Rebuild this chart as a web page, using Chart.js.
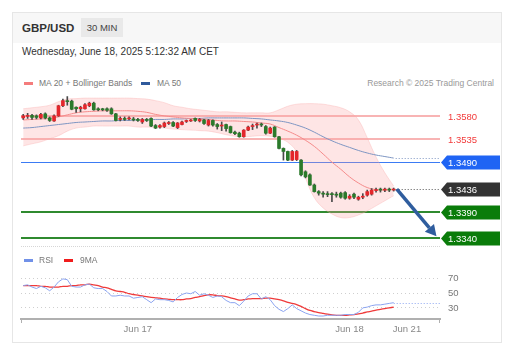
<!DOCTYPE html>
<html>
<head>
<meta charset="utf-8">
<script src="https://cdn.jsdelivr.net/npm/chart.js@4"></script>
<style>
  body { margin: 0; background: #fff; font-family: Arial, "Liberation Sans", sans-serif; }
  .abs { position: absolute; white-space: nowrap; }
  #card { left: 12px; top: 12px; width: 488px; height: 329px; border: 1px solid #e6e6e6; }
  #headbg { left: 13px; top: 13px; width: 488px; height: 30px; background: #f7f7f7; }
  #badge { left: 81px; top: 18px; width: 42px; height: 19px; line-height: 19px; background: #e9e9e9;
           font-size: 9.5px; color: #444; text-align: center; }
  .leg { font-size: 8.5px; color: #777; height: 13px; line-height: 13px; }
  .sw { height: 3px; width: 9px; }
  #sep { left: 21px; top: 246px; width: 419px; border-top: 1px dotted #d6d6d6; }
</style>
</head>
<body>
<div id="card" class="abs"></div>
<div id="headbg" class="abs"></div>
<div class="abs" style="left:22px;top:20px;height:16px;line-height:16px;font-size:11.5px;font-weight:bold;color:#333">GBP/USD</div>
<div id="badge" class="abs">30 MIN</div>
<div class="abs" style="left:22px;top:44px;height:15px;line-height:15px;font-size:10px;color:#333">Wednesday, June 18, 2025 5:12:32 AM CET</div>

<div class="abs sw" style="left:24px;top:82px;background:#f47c7c"></div>
<div class="abs leg" style="left:39px;top:77px">MA 20 + Bollinger Bands</div>
<div class="abs sw" style="left:141px;top:82px;background:#2f5a9c"></div>
<div class="abs leg" style="left:157px;top:77px">MA 50</div>
<div class="abs leg" style="right:21px;top:77px;color:#999">Research © 2025 Trading Central</div>

<div class="abs" style="left:0;top:90px"><canvas id="main" width="515" height="158"></canvas></div>
<div id="sep" class="abs"></div>

<div class="abs sw" style="left:24px;top:259px;background:#7191e8"></div>
<div class="abs leg" style="left:39px;top:254px">RSI</div>
<div class="abs sw" style="left:64px;top:259px;background:#f01c1c"></div>
<div class="abs leg" style="left:80px;top:254px">9MA</div>

<div class="abs" style="left:0;top:262px"><canvas id="rsi" width="515" height="80"></canvas></div>

<script>
// 30 min candles, Jun 16 11:00 -> Jun 18 05:00
const candleOpen = [
  1.3576, 1.3579, 1.3581, 1.3580, 1.3576, 1.3584, 1.3576, 1.3570, 1.3580, 1.3600,
  1.3609, 1.3609, 1.3597, 1.3594, 1.3594, 1.3600, 1.3605, 1.3594, 1.3593, 1.3594,
  1.3594, 1.3584, 1.3573, 1.3575, 1.3574, 1.3574, 1.3573, 1.3568, 1.3573, 1.3575,
  1.3561, 1.3558, 1.3559, 1.3565, 1.3567, 1.3557, 1.3563, 1.3569, 1.3570, 1.3575,
  1.3570, 1.3572, 1.3562, 1.3571, 1.3563, 1.3560, 1.3563, 1.3559, 1.3548, 1.3546,
  1.3539, 1.3552, 1.3559, 1.3562, 1.3563, 1.3559, 1.3546, 1.3558, 1.3539, 1.3516,
  1.3510, 1.3493, 1.3494, 1.3493, 1.3470, 1.3464, 1.3444, 1.3431, 1.3428, 1.3427,
  1.3427, 1.3426, 1.3428, 1.3429, 1.3418, 1.3426, 1.3416, 1.3420, 1.3424, 1.3426,
  1.3433, 1.3435, 1.3434, 1.3435, 1.3434
];
const candleHigh = [
  1.3583, 1.3585, 1.3583, 1.3582, 1.3585, 1.3586, 1.3578, 1.3582, 1.3601, 1.3613,
  1.3618, 1.3611, 1.3598, 1.3599, 1.3604, 1.3607, 1.3607, 1.3596, 1.3595, 1.3596,
  1.3596, 1.3585, 1.3578, 1.3578, 1.3578, 1.3577, 1.3575, 1.3575, 1.3575, 1.3576,
  1.3563, 1.3563, 1.3568, 1.3569, 1.3569, 1.3567, 1.3570, 1.3572, 1.3573, 1.3576,
  1.3575, 1.3573, 1.3573, 1.3572, 1.3565, 1.3568, 1.3564, 1.3560, 1.3550, 1.3548,
  1.3553, 1.3560, 1.3564, 1.3566, 1.3566, 1.3561, 1.3558, 1.3559, 1.3540, 1.3517,
  1.3511, 1.3512, 1.3512, 1.3494, 1.3472, 1.3466, 1.3446, 1.3433, 1.3431, 1.3431,
  1.3429, 1.3430, 1.3430, 1.3431, 1.3425, 1.3428, 1.3422, 1.3427, 1.3434, 1.3437,
  1.3438, 1.3438, 1.3438, 1.3438, 1.3438
];
const candleLow = [
  1.3573, 1.3575, 1.3573, 1.3574, 1.3574, 1.3574, 1.3569, 1.3569, 1.3579, 1.3598,
  1.3601, 1.3592, 1.3587, 1.3588, 1.3593, 1.3598, 1.3591, 1.3590, 1.3590, 1.3589,
  1.3583, 1.3570, 1.3570, 1.3571, 1.3572, 1.3570, 1.3569, 1.3565, 1.3569, 1.3559,
  1.3555, 1.3556, 1.3557, 1.3563, 1.3559, 1.3555, 1.3562, 1.3567, 1.3569, 1.3569,
  1.3568, 1.3563, 1.3560, 1.3560, 1.3554, 1.3551, 1.3550, 1.3546, 1.3543, 1.3538,
  1.3538, 1.3551, 1.3553, 1.3556, 1.3559, 1.3544, 1.3545, 1.3538, 1.3515, 1.3493,
  1.3492, 1.3492, 1.3492, 1.3462, 1.3458, 1.3443, 1.3430, 1.3424, 1.3420, 1.3421,
  1.3411, 1.3420, 1.3418, 1.3416, 1.3416, 1.3417, 1.3414, 1.3417, 1.3422, 1.3424,
  1.3430, 1.3430, 1.3431, 1.3431, 1.3432
];
const candleClose = [
  1.3580, 1.3581, 1.3577, 1.3577, 1.3583, 1.3576, 1.3571, 1.3580, 1.3600, 1.3610,
  1.3608, 1.3593, 1.3594, 1.3597, 1.3602, 1.3605, 1.3592, 1.3592, 1.3592, 1.3591,
  1.3584, 1.3571, 1.3575, 1.3573, 1.3575, 1.3572, 1.3571, 1.3573, 1.3571, 1.3560,
  1.3556, 1.3561, 1.3566, 1.3566, 1.3560, 1.3566, 1.3568, 1.3571, 1.3571, 1.3571,
  1.3573, 1.3565, 1.3571, 1.3562, 1.3559, 1.3562, 1.3555, 1.3547, 1.3545, 1.3539,
  1.3552, 1.3558, 1.3560, 1.3564, 1.3562, 1.3546, 1.3556, 1.3539, 1.3516, 1.3510,
  1.3493, 1.3510, 1.3510, 1.3464, 1.3460, 1.3444, 1.3431, 1.3428, 1.3426, 1.3425,
  1.3425, 1.3424, 1.3420, 1.3418, 1.3422, 1.3420, 1.3420, 1.3422, 1.3431, 1.3434,
  1.3435, 1.3434, 1.3435, 1.3434, 1.3436
];

// indicator lines, read every second candle
const ma20 = [
  1.3572, 1.3573, 1.3574, 1.3575, 1.3578, 1.3582, 1.3586, 1.3588, 1.3589, 1.3590,
  1.3590, 1.3590, 1.3590, 1.3589, 1.3587, 1.3583, 1.3580, 1.3578, 1.3576, 1.3575,
  1.3574, 1.3573, 1.3571, 1.3570, 1.3570, 1.3569, 1.3568, 1.3566, 1.3564, 1.3557,
  1.3550, 1.3542, 1.3532, 1.3520, 1.3505, 1.3489, 1.3475, 1.3460, 1.3448, 1.3439,
  1.3435, 1.3434, 1.3436
];
const ma50 = [
  1.3556, 1.3557, 1.3559, 1.3561, 1.3563, 1.3565, 1.3567, 1.3568, 1.3569, 1.3570,
  1.3570, 1.3571, 1.3571, 1.3572, 1.3572, 1.3573, 1.3573, 1.3574, 1.3574, 1.3575,
  1.3575, 1.3576, 1.3576, 1.3576, 1.3576, 1.3576, 1.3575, 1.3574, 1.3572, 1.3570,
  1.3567, 1.3562, 1.3556, 1.3548, 1.3539, 1.3531, 1.3524, 1.3518, 1.3512, 1.3507,
  1.3503, 1.3500, 1.3497
];
const bbUpper = [
  1.3594, 1.3596, 1.3598, 1.3601, 1.3608, 1.3613, 1.3614, 1.3615, 1.3615, 1.3615,
  1.3615, 1.3615, 1.3615, 1.3614, 1.3613, 1.3610, 1.3606, 1.3600, 1.3597, 1.3594,
  1.3592, 1.3590, 1.3588, 1.3588, 1.3587, 1.3586, 1.3586, 1.3586, 1.3586, 1.3592,
  1.3599, 1.3603, 1.3604, 1.3604, 1.3603, 1.3600, 1.3596, 1.3588, 1.3572, 1.3537,
  1.3499, 1.3468, 1.3442
];
const bbLower = [
  1.3521, 1.3525, 1.3529, 1.3535, 1.3541, 1.3550, 1.3556, 1.3558, 1.3560, 1.3560,
  1.3560, 1.3560, 1.3560, 1.3558, 1.3558, 1.3557, 1.3556, 1.3554, 1.3553, 1.3552,
  1.3551, 1.3550, 1.3547, 1.3543, 1.3540, 1.3539, 1.3540, 1.3541, 1.3540, 1.3536,
  1.3528, 1.3509, 1.3458, 1.3419, 1.3399, 1.3387, 1.3380, 1.3380, 1.3385, 1.3393,
  1.3403, 1.3413, 1.3423
];

const rsi = [
  60, 61, 58, 56, 59, 57, 53, 58, 65, 69,
  68, 59, 58, 58, 61, 62, 57, 56, 56, 52,
  46, 46, 47, 46, 46, 43, 44, 45, 41, 37,
  42, 41, 41, 40, 38, 44, 48, 50, 49, 52,
  47, 49, 47, 44, 46, 45, 40, 37, 37, 33,
  39, 46, 49, 49, 42, 45, 41, 33, 28, 25,
  29, 34, 29, 26, 23, 21, 20, 19, 19, 20,
  20, 20, 20, 21, 21, 21, 24, 30, 31, 33,
  34, 34, 35, 36, 37
];
const rsi9ma = [
  60, 60, 60, 60, 59, 59, 58, 58, 58, 59,
  59, 60, 60, 61, 61, 62, 61, 60, 58, 57,
  55, 53, 52, 51, 49, 48, 47, 46, 45, 44,
  43.5, 43, 42, 41.5, 41, 41, 41, 42, 42.5, 44,
  45, 46.5, 47.5, 47.5, 46.5, 46, 45, 43.5, 42, 40.5,
  41, 42, 42.5, 42.5, 42.5, 43, 43, 42, 41, 39.5,
  37.5, 36, 34.5, 32, 29, 26.5, 25, 23.5, 22.5, 21.5,
  20.5, 20, 20, 20, 20.5, 21, 22, 23, 24.5, 25.5,
  27, 28, 29, 30, 31
];

const levelValues = [1.3580, 1.3535, 1.3490, 1.3436, 1.3390, 1.3340];
const levelKinds = ['res', 'res', 'pivot', 'last', 'sup', 'sup'];
const forecast = [1.3436, 1.3343];
const rsiTicks = [30, 50, 70];
const dateTicks = [26, 74, 87];
const dateLabels = ['Jun 17', 'Jun 18', 'Jun 21'];
const slotCount = 95;

const levelStyle = {
  res: { line: '#f8b4b4', width: 2, text: '#f23a3a', box: null },
  pivot: { line: '#3b7bf4', width: 1, text: '#fff', box: '#1f64f4' },
  last: { line: null, width: 1, text: '#fff', box: '#333333' },
  sup: { line: '#2f8a2f', width: 2, text: '#fff', box: '#0a7c0a' }
};
const labelFont = '9.5px Arial, "Liberation Sans", sans-serif';

const idx = candleClose.map((_, i) => i);
const every2 = arr => arr.map((v, k) => ({ x: k * 2, y: v }));

const levelsPlugin = {
  id: 'levels',
  beforeDatasetsDraw(chart) {
    const { ctx, chartArea: a, scales: { y } } = chart;
    levelValues.forEach((v, i) => {
      const st = levelStyle[levelKinds[i]];
      if (!st.line) return;
      const py = Math.round(y.getPixelForValue(v)) + (st.width === 1 ? 0.5 : 0);
      ctx.save();
      ctx.strokeStyle = st.line;
      ctx.lineWidth = st.width;
      ctx.beginPath();
      ctx.moveTo(a.left, py);
      ctx.lineTo(a.right, py);
      ctx.stroke();
      ctx.restore();
    });
  },
  afterDatasetsDraw(chart) {
    const { ctx, chartArea: a, scales: { x, y } } = chart;
    const lastX = x.getPixelForValue(candleClose.length - 1) + 2;
    ctx.save();
    ctx.setLineDash([1, 2]);
    ctx.lineWidth = 1;
    // last price
    let py = Math.round(y.getPixelForValue(candleClose[candleClose.length - 1])) + 0.5;
    ctx.strokeStyle = '#555';
    ctx.beginPath(); ctx.moveTo(lastX, py); ctx.lineTo(a.right, py); ctx.stroke();
    // ma50 extension
    py = Math.round(y.getPixelForValue(ma50[ma50.length - 1])) + 0.5;
    ctx.strokeStyle = '#7d95c2';
    ctx.beginPath(); ctx.moveTo(lastX, py); ctx.lineTo(a.right, py); ctx.stroke();
    ctx.restore();

    // forecast arrow
    const x1 = x.getPixelForValue(candleClose.length - 0.3), y1 = y.getPixelForValue(forecast[0]);
    const x2 = x.getPixelForValue(slotCount - 1.3), y2 = y.getPixelForValue(forecast[1]);
    const ang = Math.atan2(y2 - y1, x2 - x1), hl = 11, hw = 6;
    const bx = x2 - hl * Math.cos(ang), by = y2 - hl * Math.sin(ang);
    ctx.save();
    ctx.strokeStyle = '#2f5d9e';
    ctx.fillStyle = '#2f5d9e';
    ctx.lineWidth = 3.5;
    ctx.beginPath(); ctx.moveTo(x1, y1); ctx.lineTo(bx, by); ctx.stroke();
    ctx.beginPath();
    ctx.moveTo(x2, y2);
    ctx.lineTo(bx + hw * Math.sin(ang), by - hw * Math.cos(ang));
    ctx.lineTo(bx - hw * Math.sin(ang), by + hw * Math.cos(ang));
    ctx.closePath(); ctx.fill();
    ctx.restore();

    // right side labels
    ctx.save();
    ctx.font = labelFont;
    ctx.textBaseline = 'middle';
    levelValues.forEach((v, i) => {
      const st = levelStyle[levelKinds[i]];
      const cy = Math.round(y.getPixelForValue(v)) + 0.5;
      const x0 = a.right + 1;
      if (st.box) {
        ctx.fillStyle = st.box;
        ctx.beginPath();
        ctx.moveTo(x0, cy);
        ctx.lineTo(x0 + 6, cy - 7);
        ctx.lineTo(x0 + 59, cy - 7);
        ctx.lineTo(x0 + 59, cy + 7);
        ctx.lineTo(x0 + 6, cy + 7);
        ctx.closePath();
        ctx.fill();
      }
      ctx.fillStyle = st.text;
      ctx.fillText(v.toFixed(4), a.right + 8, cy + 0.5);
    });
    ctx.restore();
  }
};

new Chart(document.getElementById('main'), {
  type: 'bar',
  data: {
    datasets: [
      {
        label: 'body',
        data: idx.map(i => ({ x: i, y: [candleOpen[i], candleClose[i]] })),
        backgroundColor: idx.map(i => candleClose[i] >= candleOpen[i] ? '#e3262b' : '#2b7a2b'),
        barThickness: 3,
        minBarLength: 1,
        grouped: false
      },
      {
        label: 'wick',
        data: idx.map(i => ({ x: i, y: [candleLow[i], candleHigh[i]] })),
        backgroundColor: '#4a4a4a',
        barThickness: 1,
        grouped: false
      },
      {
        type: 'line',
        label: 'MA 20',
        data: every2(ma20),
        borderColor: '#f58a8a',
        borderWidth: 1,
        pointRadius: 0,
        tension: 0.4
      },
      {
        type: 'line',
        label: 'MA 50',
        data: every2(ma50),
        borderColor: '#7d95c2',
        borderWidth: 1,
        pointRadius: 0,
        tension: 0.4
      },
      {
        type: 'line',
        label: 'BB upper',
        data: every2(bbUpper),
        borderColor: 'rgba(248,170,170,0.35)',
        borderWidth: 1,
        backgroundColor: 'rgba(250,160,160,0.28)',
        fill: '+1',
        pointRadius: 0,
        tension: 0.4
      },
      {
        type: 'line',
        label: 'BB lower',
        data: every2(bbLower),
        borderColor: 'rgba(248,170,170,0.35)',
        borderWidth: 1,
        pointRadius: 0,
        tension: 0.4
      }
    ]
  },
  options: {
    responsive: false,
    animation: false,
    layout: { padding: { left: 21, right: 75, top: 2, bottom: 2 } },
    plugins: { legend: { display: false }, tooltip: { enabled: false } },
    scales: {
      x: { type: 'linear', display: false, offset: false, min: -0.5, max: slotCount - 0.5 },
      y: { type: 'linear', display: false, min: 1.3324, max: 1.3627 }
    }
  },
  plugins: [levelsPlugin]
});

const rsiPlugin = {
  id: 'rsiExtras',
  afterDatasetsDraw(chart) {
    const { ctx, chartArea: a, scales: { x, y } } = chart;
    const px = x.getPixelForValue(rsi.length - 1);
    const py = Math.round(y.getPixelForValue(rsi[rsi.length - 1])) + 0.5;
    ctx.save();
    ctx.setLineDash([1, 2]);
    ctx.strokeStyle = '#8da6f0';
    ctx.lineWidth = 1;
    ctx.beginPath(); ctx.moveTo(px, py); ctx.lineTo(a.right, py); ctx.stroke();
    ctx.setLineDash([]);
    ctx.strokeStyle = '#b0b0b0';
    ctx.beginPath();
    ctx.moveTo(a.left + 0.5, a.bottom); ctx.lineTo(a.left + 0.5, a.bottom + 4);
    ctx.moveTo(a.right - 0.5, a.bottom); ctx.lineTo(a.right - 0.5, a.bottom + 4);
    ctx.stroke();
    // level labels on the right
    ctx.font = labelFont;
    ctx.fillStyle = '#777';
    ctx.textBaseline = 'middle';
    rsiTicks.forEach(v => ctx.fillText(String(v), a.right + 8, y.getPixelForValue(v) + 0.5));
    ctx.restore();
  }
};

new Chart(document.getElementById('rsi'), {
  type: 'line',
  data: {
    datasets: [
      {
        label: 'RSI',
        data: idx.map(i => ({ x: i, y: rsi[i] })),
        borderColor: '#8ba4f0',
        borderWidth: 1,
        pointRadius: 0,
        tension: 0
      },
      {
        label: '9MA',
        data: idx.map(i => ({ x: i, y: rsi9ma[i] })),
        borderColor: '#ef3a3a',
        borderWidth: 1.3,
        pointRadius: 0,
        tension: 0.3
      }
    ]
  },
  options: {
    responsive: false,
    animation: false,
    layout: { padding: { left: 21, right: 0, top: 5, bottom: 0 } },
    plugins: { legend: { display: false }, tooltip: { enabled: false } },
    scales: {
      x: {
        type: 'linear', offset: false, min: -0.5, max: slotCount - 0.5,
        grid: { display: false, drawTicks: false },
        border: { display: true, color: '#b0b0b0', width: 2 },
        afterBuildTicks: s => { s.ticks = dateTicks.map(v => ({ value: v })); },
        afterFit: s => { s.height = 23; },
        ticks: {
          autoSkip: false, maxRotation: 0, padding: 5, color: '#888',
          font: { family: 'Arial, "Liberation Sans", sans-serif', size: 9.5 },
          callback: v => dateLabels[dateTicks.indexOf(v)]
        }
      },
      y: {
        position: 'right', min: 15, max: 85,
        grid: { color: '#cfcfcf', drawTicks: false },
        border: { display: false, dash: [1, 3] },
        afterBuildTicks: s => { s.ticks = rsiTicks.map(v => ({ value: v })); },
        afterFit: s => { s.width = 75; },
        ticks: { display: false }
      }
    }
  },
  plugins: [rsiPlugin]
});
</script>
</body>
</html>
